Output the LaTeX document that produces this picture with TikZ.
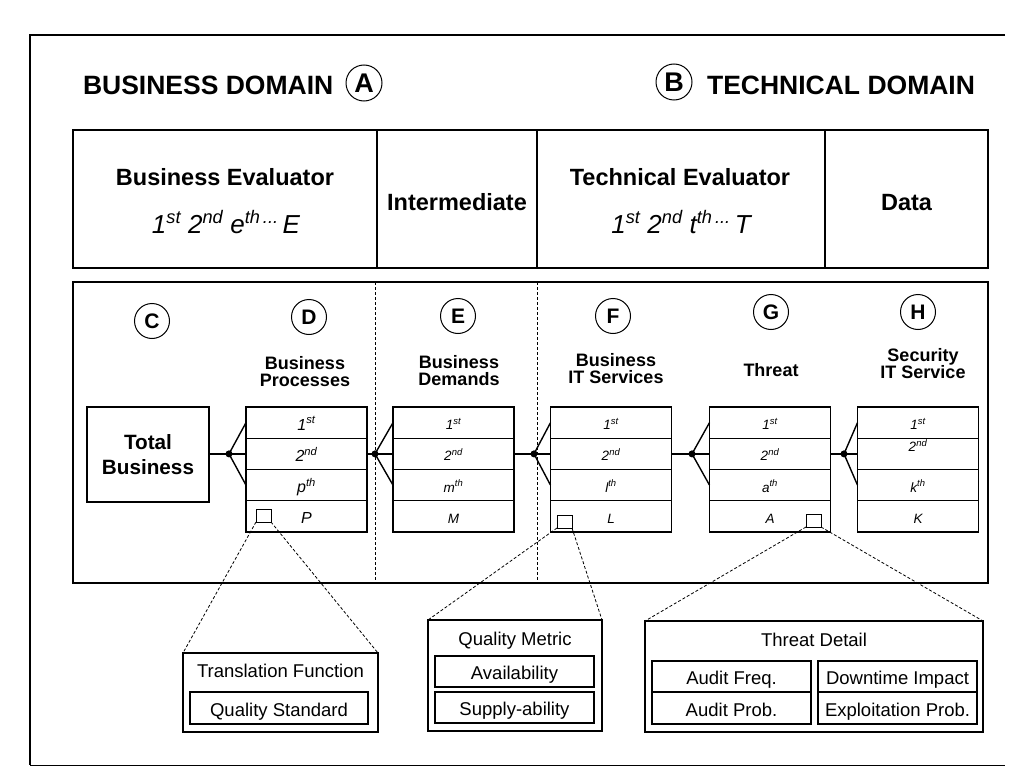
\documentclass[tikz,border=0pt]{standalone}
\usepackage{fontspec}
\setmainfont{Liberation Sans}
\usetikzlibrary{calc}
\newcommand\fsz[1]{\fontsize{#1}{#1}\selectfont}
\newcommand\sps[1]{\textsuperscript{#1}}
\begin{document}
\begin{tikzpicture}[x=1pt,y=-1pt,
  every node/.style={inner sep=0pt, outer sep=0pt},
  outerline/.style={line width=2pt},
  cellbox/.style={draw, line width=1.4pt},
  hdr/.style={font=\fsz{23.5}\bfseries, anchor=base},
  hsub/.style={font=\fsz{26}\itshape, anchor=base},
  dom/.style={font=\fsz{26.5}\bfseries},
  domcirc/.style={circle, draw, line width=1pt, minimum size=36pt, font=\fsz{27}\bfseries},
  letcirc/.style={circle, draw, line width=1pt, minimum size=35pt, font=\fsz{21}\bfseries},
  collab/.style={font=\fontsize{18}{17}\selectfont\bfseries, align=center, anchor=south},
  rowD/.style={draw, line width=1.4pt, minimum width=121pt, minimum height=31.25pt, text height=15pt, text depth=0pt, font=\fsz{16}\itshape},
  rowX/.style={draw, line width=1.4pt, minimum width=121pt, minimum height=31.25pt, text height=14pt, text depth=0pt, font=\fsz{13.5}\itshape},
  jdot/.style={circle, fill, minimum size=7pt},
  conn/.style={line width=1.4pt},
  sqbox/.style={draw, line width=1pt, minimum width=15pt, minimum height=13pt},
  zoomline/.style={dash pattern=on 3pt off 2pt, line width=0.8pt},
  sepline/.style={dash pattern=on 3pt off 2pt, line width=0.8pt},
  dbox/.style={draw, line width=1.2pt},
  dcell/.style={draw, line width=1.2pt, text height=16pt, text depth=0pt, font=\fsz{18.5}},
  dtitle/.style={font=\fsz{18.5}, anchor=base},
]
\useasboundingbox (0,0) rectangle (1029,776);

% outer frame
\draw[outerline] (1005,35) -- (30,35) -- (30,765);
\draw[line width=1pt] (30,765) -- (1005,765);

% domain titles
\node[dom, anchor=base west] (bdom) at (83,95) {BUSINESS DOMAIN};
\node[domcirc] (cA) at (364,83) {A};
\node[domcirc] (cB) at (674,82) {B};
\node[dom, anchor=base east] (tdom) at (975,95) {TECHNICAL DOMAIN};

% header table
\node[cellbox, minimum width=304pt, minimum height=138pt] (hBE) at (225,199) {};
\node[cellbox, minimum width=160pt, minimum height=138pt] (hIM) at (457,199) {};
\node[cellbox, minimum width=288pt, minimum height=138pt] (hTE) at (681,199) {};
\node[cellbox, minimum width=163pt, minimum height=138pt] (hDA) at (906.5,199) {};
\node[hdr] (tBE) at (225,185) {Business Evaluator};
\node[hsub] (sBE) at (226,233) {1\sps{st}\hspace{7pt}2\sps{nd}\hspace{7pt}e\sps{th\,...}\hspace{4pt}E};
\node[hdr] (tIM) at (457,210) {Intermediate};
\node[hdr] (tTE) at (680,185) {Technical Evaluator};
\node[hsub] (sTE) at (681,233) {1\sps{st}\hspace{7pt}2\sps{nd}\hspace{7pt}t\sps{th\,...}\hspace{4pt}T};
\node[hdr] (tDA) at (906.5,210) {Data};

% main box
\node[cellbox, minimum width=915pt, minimum height=301pt] (main) at (530.5,432.5) {};
\draw[sepline] (375,282) -- (375,583);
\draw[sepline] (537,282) -- (537,583);

% letter circles
\node[letcirc] (cC) at (152,321) {C};
\node[letcirc] (cD) at (309,317) {D};
\node[letcirc] (cE) at (458,316) {E};
\node[letcirc] (cF) at (613,316) {F};
\node[letcirc] (cG) at (771,312) {G};
\node[letcirc] (cH) at (918,312) {H};

% column labels
\node[collab] (lD) at (305,387) {Business\\Processes};
\node[collab] (lE) at (459,386) {Business\\Demands};
\node[collab] (lF) at (616,384) {Business\\IT Services};
\node[collab, anchor=base] (lG) at (771,376) {Threat};
\node[collab] (lH) at (923,379) {Security\\IT Service};

% total business
\node[cellbox, minimum width=122pt, minimum height=95pt, align=center, font=\fontsize{20.7}{25}\selectfont\bfseries] (TB) at (148,454.5) {Total\\Business};

% rows
\node[rowD] (D1) at (306.5,422.625) {1\sps{st}};
\node[rowD] (D2) at (306.5,453.875) {2\sps{nd}};
\node[rowD] (D3) at (306.5,485.125) {p\sps{th}};
\node[rowD] (D4) at (306.5,516.375) {P};

\node[rowX] (E1) at (453.5,422.625) {1\sps{st}};
\node[rowX] (E2) at (453.5,453.875) {2\sps{nd}};
\node[rowX] (E3) at (453.5,485.125) {m\sps{th}};
\node[rowX] (E4) at (453.5,516.375) {M};

\node[rowX] (F1) at (611,422.625) {1\sps{st}};
\node[rowX] (F2) at (611,453.875) {2\sps{nd}};
\node[rowX] (F3) at (611,485.125) {l\sps{th}};
\node[rowX] (F4) at (611,516.375) {L};

\node[rowX] (G1) at (770,422.625) {1\sps{st}};
\node[rowX] (G2) at (770,453.875) {2\sps{nd}};
\node[rowX] (G3) at (770,485.125) {a\sps{th}};
\node[rowX] (G4) at (770,516.375) {A};

\node[rowX] (H1) at (918,422.625) {1\sps{st}};
\node[rowX] (H2) at (918,453.875) {\raisebox{9pt}{2\sps{nd}}};
\node[rowX] (H3) at (918,485.125) {k\sps{th}};
\node[rowX] (H4) at (918,516.375) {K};

% junction dots
\node[jdot] (dD) at (229,453.875) {};
\node[jdot] (dE) at (375,453.875) {};
\node[jdot] (dF) at (534,453.875) {};
\node[jdot] (dG) at (692,453.875) {};
\node[jdot] (dH) at (844,453.875) {};

\draw[conn] (TB.east |- dD) -- (dD);
\draw[conn] (D2.east) -- (dE);
\draw[conn] (E2.east) -- (dF);
\draw[conn] (F2.east) -- (dG);
\draw[conn] (G2.east) -- (dH);
\foreach \c in {D,E,F,G,H}{
  \draw[conn] (d\c.center) -- (\c1.west);
  \draw[conn] (d\c.center) -- (\c2.west);
  \draw[conn] (d\c.center) -- (\c3.west);
}

% small squares
\node[sqbox] (sqD) at (263.5,515.5) {};
\node[sqbox] (sqF) at (564.5,521.5) {};
\node[sqbox] (sqG) at (813.5,520.5) {};

% detail boxes
\node[dbox, minimum width=195pt, minimum height=79pt] (TF) at (280.5,692.5) {};
\node[dtitle] (tTF) at (280.5,677) {Translation Function};
\node[dcell, minimum width=178pt, minimum height=32pt] (QS) at (279,708) {Quality Standard};

\node[dbox, minimum width=174pt, minimum height=111pt] (QM) at (515,675.5) {};
\node[dtitle] (tQM) at (515,645) {Quality Metric};
\node[dcell, minimum width=159pt, minimum height=31pt] (AV) at (514.5,671.5) {Availability};
\node[dcell, minimum width=159pt, minimum height=31pt] (SA) at (514.5,707.5) {Supply-ability};

\node[dbox, minimum width=338pt, minimum height=111pt] (TD) at (814,676.5) {};
\node[dtitle] (tTD) at (814,646) {Threat Detail};
\node[dcell, minimum width=159pt, minimum height=31pt] (AF) at (731.5,676.5) {Audit Freq.};
\node[dcell, minimum width=159pt, minimum height=32pt] (AP) at (731.5,708) {Audit Prob.};
\node[dcell, minimum width=159pt, minimum height=31pt] (DI) at (897.5,676.5) {Downtime Impact};
\node[dcell, minimum width=159pt, minimum height=32pt] (EP) at (897.5,708) {Exploitation Prob.};

% zoom lines
\draw[zoomline] (sqD.south west) -- (TF.north west);
\draw[zoomline] (sqD.south east) -- (TF.north east);
\draw[zoomline] (sqF.south west) -- (QM.north west);
\draw[zoomline] (sqF.south east) -- (QM.north east);
\draw[zoomline] (sqG.south west) -- (TD.north west);
\draw[zoomline] (sqG.south east) -- (TD.north east);
\end{tikzpicture}
\end{document}
